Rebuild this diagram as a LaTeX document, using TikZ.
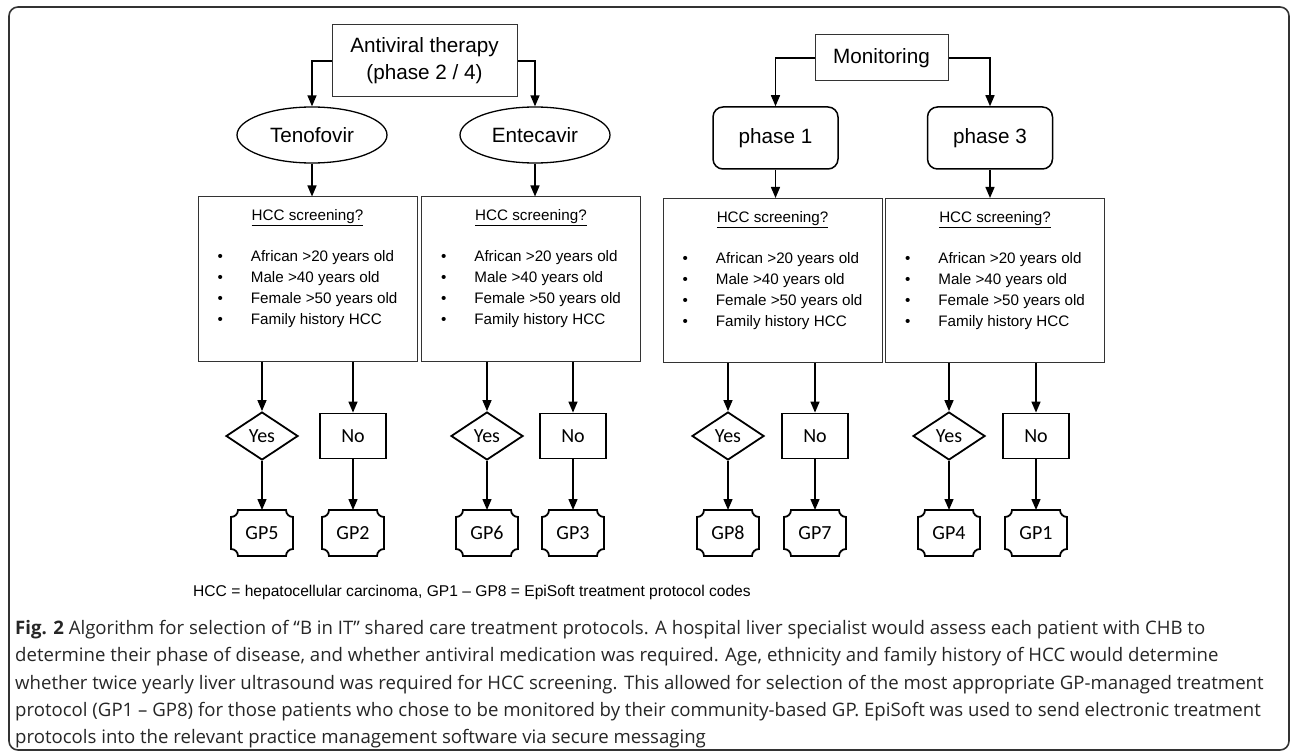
\documentclass[tikz,border=0pt]{standalone}
\usepackage{fontspec}
\setmainfont{Liberation Sans}
\newfontfamily\calibri{Carlito}
\newfontfamily\captionfont{Open Sans}
\usetikzlibrary{shapes.geometric, arrows.meta}

% text of the four screening boxes
\newcommand{\screening}{%
  \underline{HCC screening?}\\[20pt]
  \begin{tabular}[t]{@{}l@{\hspace{28pt}}l@{}}
    \textbullet & African >20 years old\\
    \textbullet & Male >40 years old\\
    \textbullet & Female >50 years old\\
    \textbullet & Family history HCC
  \end{tabular}}

% GP code box with hollow corners
\newcommand{\gpnode}[3]{%
  \node[gpbox] (#1) at (#2) {#3};
  \draw[gpline] ([xshift=7pt]#1.north west) -- ([xshift=-7pt]#1.north east)
    arc[start angle=180, end angle=270, radius=7pt] -- ([yshift=7pt]#1.south east)
    arc[start angle=90, end angle=180, radius=7pt] -- ([xshift=7pt]#1.south west)
    arc[start angle=0, end angle=90, radius=7pt] -- ([yshift=-7pt]#1.north west)
    arc[start angle=270, end angle=360, radius=7pt] -- cycle;}

\begin{document}
\begin{tikzpicture}[x=1pt, y=1pt, font=\fontsize{20.7}{27}\selectfont,
  box/.style={draw=black!80, line width=1pt, inner sep=0pt},
  drug/.style={ellipse, draw, line width=1.3pt, inner sep=0pt, minimum width=150pt, minimum height=56pt},
  phasebox/.style={draw, rounded corners=10pt, line width=1.5pt, minimum width=125pt, minimum height=62pt},
  hccbox/.style={box, minimum width=219pt, minimum height=164pt},
  yesbox/.style={diamond, aspect=1.5, draw, line width=1.8pt, inner sep=0pt, minimum width=72pt, minimum height=48pt, font=\calibri\fontsize{20}{24}\selectfont},
  nobox/.style={draw, line width=1.8pt, inner sep=0pt, minimum width=66pt, minimum height=45pt, font=\calibri\fontsize{20}{24}\selectfont},
  gpbox/.style={inner sep=0pt, outer sep=0pt, minimum width=62pt, minimum height=46pt, font=\calibri\fontsize{20}{24}\selectfont},
  gpline/.style={line width=1.8pt},
  arr/.style={-{Triangle[length=11pt, width=9pt]}, line width=1.4pt}]

\useasboundingbox (0,0) rectangle (1292,-751);

% Frame
\draw[line width=1.6pt, black!80, rounded corners=9pt] (9,-7) rectangle (1289,-750);

% Antiviral therapy
\node[box, minimum width=185pt, minimum height=72pt, align=center] (av) at (424.5,-61) {Antiviral therapy\\(phase 2 / 4)};
\node[drug] (teno) at (312,-135) {Tenofovir};
\node[drug] (ente) at (535,-135) {Entecavir};

% Monitoring
\node[box, minimum width=133pt, minimum height=46pt] (mon) at (881.5,-58) {Monitoring};
\node[phasebox] (ph1) at (775.5,-138) {phase 1};
\node[phasebox] (ph3) at (990,-138) {phase 3};

% Screening
\node[hccbox] (h1) at (307.5,-279) {};
\node[hccbox] (h2) at (531,-279) {};
\node[hccbox] (h3) at (772.5,-280.5) {};
\node[hccbox] (h4) at (995,-280.5) {};
\foreach \h in {h1,h2,h3,h4}
  \node[anchor=north, inner sep=0pt, align=center, font=\fontsize{15.2}{21}\selectfont] (\h-text) at ([yshift=-13pt]\h.north) {\screening};

% Arrows
\draw[arr] (av.west) -| (teno);
\draw[arr] (av.east) -| (ente);
\draw[arr] (teno) -- (teno |- h1.north);
\draw[arr] (ente) -- (ente |- h2.north);
\draw[arr] (mon.west) -| (ph1);
\draw[arr] (mon.east) -| (ph3);
\draw[arr] (ph1) -- (ph1 |- h3.north);
\draw[arr] (ph3) -- (ph3 |- h4.north);

% Yes / No and GP codes
\foreach \h/\xa/\xb/\ga/\gb in {h1/262/353/5/2, h2/487/573/6/3, h3/728/815/8/7, h4/949/1036/4/1} {
  \node[yesbox] (yes\ga) at (\xa,-436) {Yes};
  \node[nobox] (no\gb) at (\xb,-436) {No};
  \gpnode{gp\ga}{\xa,-533}{GP\ga}
  \gpnode{gp\gb}{\xb,-533}{GP\gb}
  \draw[arr] (yes\ga |- \h.south) -- (yes\ga);
  \draw[arr] (no\gb |- \h.south) -- (no\gb);
  \draw[arr] (yes\ga) -- (gp\ga);
  \draw[arr] (no\gb) -- (gp\gb);
}

% Legend and caption
\node[anchor=west, inner sep=0pt, font=\fontsize{15.6}{19}\selectfont] (legend) at (193,-592) {HCC = hepatocellular carcinoma, GP1 – GP8 = EpiSoft treatment protocol codes};
\node[anchor=north west, inner sep=0pt, align=left, text=black!85, font=\captionfont\fontsize{18.6}{27.3}\selectfont] (caption) at (15,-620) {\textbf{Fig. 2} Algorithm for selection of “B in IT” shared care treatment protocols. A hospital liver specialist would assess each patient with CHB to\\
determine their phase of disease, and whether antiviral medication was required. Age, ethnicity and family history of HCC would determine\\
whether twice yearly liver ultrasound was required for HCC screening. This allowed for selection of the most appropriate GP-managed treatment\\
protocol (GP1 – GP8) for those patients who chose to be monitored by their community-based GP. EpiSoft was used to send electronic treatment\\
protocols into the relevant practice management software via secure messaging};

\end{tikzpicture}
\end{document}
